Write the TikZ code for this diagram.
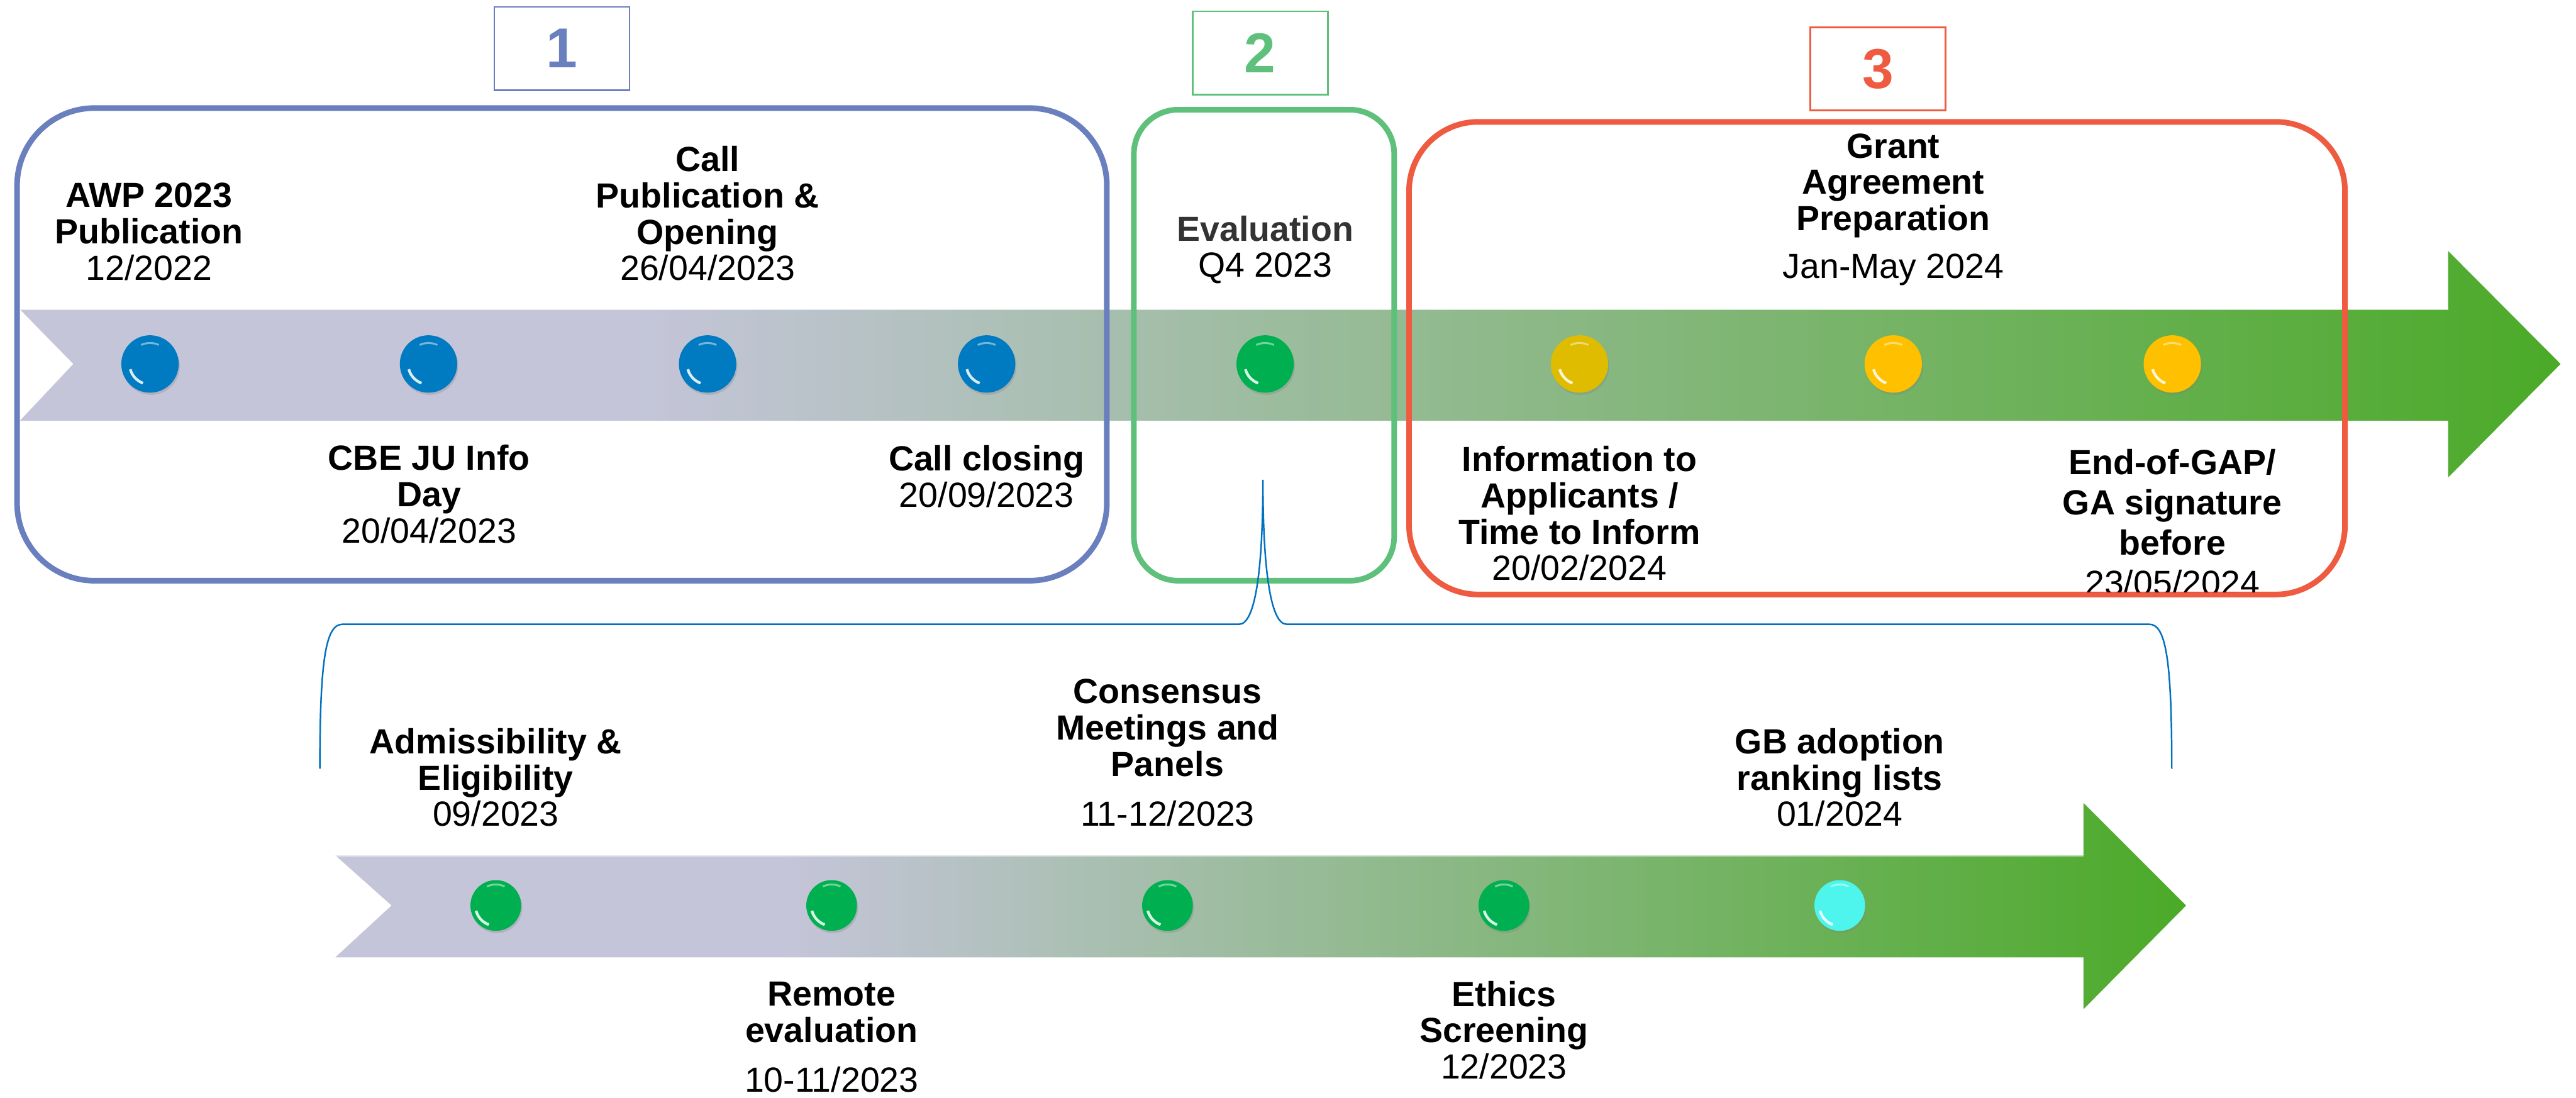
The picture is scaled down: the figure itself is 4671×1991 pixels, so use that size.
\documentclass[tikz,border=0pt]{standalone}
\usepackage{fontspec}
\setmainfont{Liberation Sans}
\usetikzlibrary{shadows}
\definecolor{boxBlue}{HTML}{6A7FBE}
\definecolor{boxGreen}{HTML}{5EC07B}
\definecolor{boxRed}{HTML}{EE5B41}
\definecolor{braceBlue}{HTML}{0070C0}
\definecolor{dotBlue}{HTML}{007AC1}
\definecolor{dotGreen}{HTML}{00B050}
\definecolor{dotGold}{HTML}{E0BC00}
\definecolor{dotYellow}{HTML}{FFC000}
\definecolor{dotCyan}{HTML}{4DF5EC}
\definecolor{bandLav}{HTML}{C5C5DA}
\definecolor{bandGrn}{HTML}{4BAA28}
\definecolor{evalGrey}{HTML}{333333}
\pgfdeclarehorizontalshading{tlband}{100bp}{color(0bp)=(bandLav); color(25bp)=(bandLav); color(37bp)=(bandLav); color(75bp)=(bandGrn); color(100bp)=(bandGrn)}
\tikzset{
  band/.style={shading=tlband, draw=none},
  phase/.style={line width=2.9pt, rounded corners=#1},
  numbox/.style={draw, line width=0.9pt, minimum width=2.45cm, minimum height=1.51cm,
    inner sep=0pt, font=\fontsize{29}{29}\selectfont\bfseries},
  tldot/.style={circle, inner sep=0pt, minimum size=#1,
    drop shadow={shadow xshift=0.02cm, shadow yshift=-0.04cm, opacity=0.3},
    path picture={
      \draw[white, line width=1.4pt, opacity=0.85] ([shift={(195:0.37cm)}]path picture bounding box.center) arc[start angle=195, end angle=250, radius=0.37cm];
      \draw[white, line width=1pt, opacity=0.45] ([shift={(65:0.38cm)}]path picture bounding box.center) arc[start angle=65, end angle=115, radius=0.38cm];
    }},
  tldot/.default=1.04cm,
  lbl/.style={align=center, inner sep=0pt, font=\fontsize{18}{18.7}\selectfont},
  bracelin/.style={draw=braceBlue, line width=0.8pt}
}

\begin{document}
\begin{tikzpicture}[x=0.01cm, y=-0.01cm]
  \useasboundingbox (0,0) rectangle (4671,1991);

  % Arrows
  \path[band] (36,561) -- (4439,561) -- (4439,455) -- (4643,660) -- (4439,866) -- (4439,763) -- (36,763) -- (133,660) -- cycle;
  \draw[white, opacity=.6, line width=1pt] (36,561) -- (4439,561);
  \path[band] (608,1551) -- (3778,1551) -- (3778,1456) -- (3964,1642) -- (3778,1830) -- (3778,1736) -- (608,1736) -- (710,1642) -- cycle;
  \draw[white, opacity=.6, line width=1pt] (608,1551) -- (3778,1551);

  % Phases
  \draw[phase=1.4cm, draw=boxBlue] (31,196) rectangle (2007,1053);
  \draw[phase=0.8cm, draw=boxGreen] (2056,199) rectangle (2528,1053);
  \draw[phase=1.25cm, draw=boxRed] (2555,221) rectangle (4252,1078);

  \node[numbox, draw=boxBlue, text=boxBlue] (n1) at (1019,88) {1};
  \node[numbox, draw=boxGreen, text=boxGreen] (n2) at (2285,96) {2};
  \node[numbox, draw=boxRed, text=boxRed] (n3) at (3405,125) {3};

  % Milestones
  \foreach \x/\c [count=\i] in {272/dotBlue, 777/dotBlue, 1283/dotBlue, 1789/dotBlue,
      2294/dotGreen, 2864/dotGold, 3433/dotYellow, 3939/dotYellow}
    \node[tldot, fill=\c] (u\i) at (\x,660) {};
  \foreach \x/\c [count=\i] in {899/dotGreen, 1508/dotGreen, 2117/dotGreen, 2727/dotGreen, 3336/dotCyan}
    \node[tldot=0.92cm, fill=\c] (l\i) at (\x,1642) {};

  % Labels
  \node[lbl] (awp) at (270,420) {\textbf{AWP 2023}\\\textbf{Publication}\\12/2022};
  \node[lbl] (info) at (778,896) {\textbf{CBE JU Info}\\\textbf{Day}\\20/04/2023};
  \node[lbl] (open) at (1283,387) {\textbf{Call}\\\textbf{Publication \&}\\\textbf{Opening}\\26/04/2023};
  \node[lbl] (close) at (1789,864) {\textbf{Call closing}\\20/09/2023};
  \node[lbl] (eval) at (2294,453) {\textcolor{evalGrey}{\textbf{Evaluation}}\\Q4 2023};
  \node[lbl] (inform) at (2864,931) {\textbf{Information to}\\\textbf{Applicants /}\\\textbf{Time to Inform}\\20/02/2024};
  \node[lbl] (gap) at (3433,380) {\textbf{Grant}\\\textbf{Agreement}\\\textbf{Preparation}\\[6pt]Jan-May 2024};
  \begin{scope}
    \clip (2555,221) rectangle (4252,1074);
    \node[lbl, font=\fontsize{18}{20.7}\selectfont] (sign) at (3939,947) {\textbf{End-of-GAP/}\\\textbf{GA signature}\\\textbf{before}\\23/05/2024};
  \end{scope}

  \node[lbl] (admis) at (899,1410) {\textbf{Admissibility \&}\\\textbf{Eligibility}\\09/2023};
  \node[lbl] (remote) at (1508,1881) {\textbf{Remote}\\\textbf{evaluation}\\[7pt]10-11/2023};
  \node[lbl] (panels) at (2117,1365) {\textbf{Consensus}\\\textbf{Meetings and}\\\textbf{Panels}\\[7pt]11-12/2023};
  \node[lbl] (ethics) at (2727,1868) {\textbf{Ethics}\\\textbf{Screening}\\12/2023};
  \node[lbl] (gb) at (3336,1410) {\textbf{GB adoption}\\\textbf{ranking lists}\\01/2024};

  % Brace
  \coordinate (brL) at (580,1394);
  \coordinate (brT) at (2290,870);
  \coordinate (brR) at (3938,1394);
  \draw[bracelin] (brL) .. controls +(0,-200) and +(-30,0) .. (621,1132) -- (2247,1132)
    .. controls +(28,0) and +(0,170) .. (brT)
    .. controls +(0,170) and +(-28,0) .. (2333,1132) -- (3897,1132)
    .. controls +(30,0) and +(0,-200) .. (brR);
\end{tikzpicture}
\end{document}
